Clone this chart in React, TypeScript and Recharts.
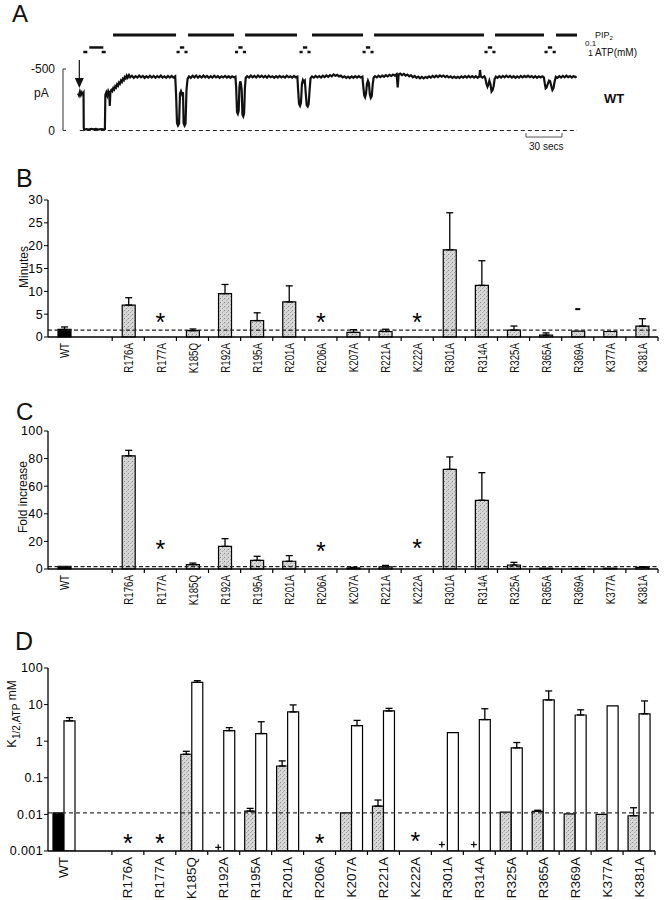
import React from 'react';
import {
  ComposedChart, LineChart, Line, Bar, Cell, XAxis, YAxis, ErrorBar, ReferenceLine, ReferenceDot,
} from 'recharts';

const FONT = '"Liberation Sans", Arial, Helvetica, sans-serif';

// ---------- panel A: current trace, time in s, current in pA ----------
const tracePoints: [number, number][] = [
  [0, -300], [0.8, -285], [1.6, -315], [2.4, -290], [3.2, -310], [4.0, -295], [4.6, -305],
  [4.8, -20], [5.2, -5], [7, -12], [9, -8], [11, -14], [13, -9], [15, -13], [17, -8], [19, -12], [21, -9], [22.4, -11],
  [22.8, -290], [23.6, -310], [24.4, -285], [25.2, -320], [26.0, -300], [26.5, -200], [27.0, -315], [27.8, -330],
  [28.6, -320], [29.4, -345], [30.2, -335], [31, -360], [31.8, -350], [32.6, -375], [33.4, -365], [34.2, -390],
  [35, -380], [35.8, -405], [36.6, -395], [37.4, -420], [38.2, -410], [39, -435], [39.8, -425], [40.6, -445],
  [41.4, -430], [42.5, -450], [43.5, -432], [45, -445], [46.5, -428], [48, -442], [49.5, -430], [51, -446],
  [52.5, -432], [54, -444], [55.5, -428], [57, -441], [58.5, -430], [60, -445], [61.5, -431], [63, -443],
  [64.5, -429], [66, -442], [67.5, -432], [69, -446], [70.5, -430], [72, -440], [73.5, -428], [75, -443],
  [76.5, -431], [78, -444], [79.5, -430], [81, -440],
  [81.7, -300], [82.5, -60], [83.3, -40], [84.2, -55], [85.0, -300], [85.8, -320], [86.7, -295], [87.5, -310],
  [88.0, -60], [88.8, -40], [89.6, -55], [90.4, -330], [91.3, -420], [92.5, -440],
  [94, -428], [95.5, -445], [97, -432], [98.5, -447], [100, -430], [101.5, -444], [103, -431], [104.5, -446],
  [106, -433], [107.5, -443], [109, -429], [110.5, -441], [112, -430], [113.5, -445], [115, -432], [116.5, -442],
  [118, -428], [119.5, -440], [121, -431], [122.5, -444], [124, -430], [125.5, -441], [127, -429], [128.5, -440],
  [130, -432], [131.2, -438],
  [131.8, -350], [132.5, -150], [133.2, -135], [133.9, -160], [134.5, -350], [135.1, -400], [135.7, -385],
  [136.4, -330], [137.0, -130], [137.7, -115], [138.4, -140], [139.1, -350], [139.8, -430], [141, -442],
  [142.5, -430], [144, -446], [145.5, -433], [147, -444], [148.5, -431], [150, -447], [151.5, -434], [153, -445],
  [154.5, -432], [156, -443], [157.5, -430], [159, -445], [160.5, -433], [162, -441], [163.5, -429], [165, -442],
  [166.5, -431], [168, -444], [169.5, -432], [171, -441], [172.5, -430], [174, -445], [175.5, -433], [177, -440],
  [178.5, -430], [180, -443], [181.5, -432], [182.8, -438],
  [183.4, -330], [184.2, -215], [185.0, -200], [185.8, -225], [186.6, -380], [187.4, -410], [188.2, -395],
  [189.0, -405], [189.8, -300], [190.6, -205], [191.4, -195], [192.2, -215], [193.0, -330], [193.8, -425], [195, -440],
  [196.5, -430], [198, -444], [199.5, -432], [201, -442], [202.5, -430], [204, -445], [205.5, -434], [207, -447],
  [208.5, -436], [210, -450], [211.5, -440], [213, -455], [214.5, -445], [216, -452], [217.5, -440], [219, -446],
  [220.5, -432], [222, -440], [223.5, -428], [225, -438], [226.5, -427], [228, -440], [229.5, -429], [231, -441],
  [232.5, -430], [234, -442], [235.5, -431], [237, -438],
  [237.7, -360], [238.5, -285], [239.2, -270], [240.0, -300], [240.8, -380], [241.6, -405], [242.4, -385],
  [243.2, -290], [244.0, -265], [244.8, -280], [245.6, -380], [246.4, -430], [247.5, -442],
  [249, -432], [250.5, -445], [252, -434], [253.5, -447], [255, -437], [256.5, -450], [258, -440], [259.5, -452],
  [261, -443], [262.5, -455], [264, -446], [265.5, -458], [266.4, -350], [267.2, -455], [268.5, -462], [270, -450],
  [271.5, -460], [273, -446], [274.5, -455], [276, -440], [277.5, -450], [279, -433], [280.5, -443], [282, -428],
  [283.5, -438], [285, -425], [286.5, -436], [288, -424], [289.5, -435], [291, -428], [292.5, -440], [294, -430],
  [295.5, -444], [297, -433], [298.5, -446], [300, -435], [301.5, -448], [303, -437], [304.5, -447], [306, -434],
  [307.5, -444], [309, -431], [310.5, -440], [312, -428], [313.5, -438], [315, -427], [316.5, -437], [318, -428],
  [319.5, -440], [321, -430], [322.5, -442], [324, -431], [325.5, -443], [327, -432], [328.5, -442], [330, -430],
  [331.5, -441], [333, -429], [334.5, -440], [335, -492], [335.6, -440], [337, -430], [338.5, -440],
  [339.4, -425], [340.3, -380], [341.2, -356], [342.0, -375], [342.8, -405], [343.6, -380], [344.6, -318],
  [345.5, -330], [346.3, -360], [347.2, -420], [348.2, -438],
  [349.5, -428], [351, -442], [352.5, -431], [354, -444], [355.5, -432], [357, -445], [358.5, -433], [360, -443],
  [361.5, -430], [363, -441], [364.5, -429], [366, -440], [367.5, -430], [369, -443], [370.5, -432], [372, -444],
  [373.5, -434], [375, -445], [376.5, -433], [378, -442], [379.5, -430], [381, -441], [382.5, -429], [384, -440],
  [385.5, -431], [387, -440], [388.2, -432],
  [389.0, -380], [389.7, -343], [390.5, -350], [391.5, -380], [392.5, -405], [393.4, -400], [394.4, -360],
  [395.3, -330], [396.2, -345], [397.2, -400], [398.2, -437],
  [399.5, -428], [401, -442], [402.5, -431], [404, -444], [405.5, -432], [407, -445], [408.5, -434], [410, -443],
  [411.5, -431], [413, -442], [414.5, -433], [415.5, -440],
];

// solution protocol (s)
const pip2On: [number, number][] = [[29.2, 81.7], [91.7, 130], [139.2, 182.5], [195, 237.5], [246.7, 338.3], [347.5, 388.3], [398.3, 415.8]];
const atp01: [number, number][] = [[9.4, 21.1], [84.9, 88.5], [133.6, 137.2], [187.4, 191.0], [239.9, 243.5], [341.5, 345.1], [391.5, 395.1]];
const atp1: [number, number][] = [
  [4.4, 7.8], [19.7, 23.1], [82.1, 84.7], [88.7, 91.3], [130.8, 133.4], [137.4, 140.0], [184.6, 187.2], [191.2, 193.8],
  [237.1, 239.7], [243.7, 246.3], [338.7, 341.3], [345.3, 347.9], [388.7, 391.3], [395.5, 398.1],
];
const arrowAt = 1.1;
const scaleBar: [number, number] = [373.3, 403.3]; // 30 s

// rows of the annotation bars above the trace (drawn in current units, outside the axis range)
const PIP_ROW = -776;
const ATP01_ROW = -675;
const ATP1_ROW = -638;

// ---------- panels B-D ----------
const mutants = ['WT', '', 'R176A', 'R177A', 'K185Q', 'R192A', 'R195A', 'R201A', 'R206A', 'K207A', 'R221A',
  'K222A', 'R301A', 'R314A', 'R325A', 'R365A', 'R369A', 'K377A', 'K381A'];

// B: minutes
const minutes = [1.65, null, 7.0, null, 1.4, 9.5, 3.6, 7.7, null, 1.0, 1.2, null, 19.1, 11.3, 1.5, 0.4, 1.3, 1.2, 2.4];
const minutesErrTop = [2.2, null, 8.6, null, 1.75, 11.5, 5.3, 11.2, null, 1.6, 1.7, null, 27.2, 16.7, 2.4, 0.9, null, null, 4.0];
const minutesStar = [null, null, null, 4.4, null, null, null, null, 4.3, null, null, 4.4, null, null, null, null, null, null, null];
const minutesMark = [null, null, null, null, null, null, null, null, null, null, null, null, null, null, null, null, 6.1, null, null];

// C: fold increase
const fold = [2.0, null, 82, null, 3.2, 16.4, 6.3, 5.6, null, 0.8, 1.5, null, 72.2, 49.8, 2.9, 0.6, 0.4, 0.6, 1.2];
const foldErrTop = [null, null, 86, null, 4.3, 22, 9.2, 9.7, null, 1.2, 2.6, null, 81.2, 69.8, 4.8, null, null, null, 1.7];
const foldStar = [null, null, null, 18, null, null, null, null, 16.5, null, null, 18.5, null, null, null, null, null, null, null];

// D: K1/2,ATP (mM), control (stippled) and after PIP2 (open)
const kControl = [0.011, null, null, null, 0.44, null, 0.0123, 0.21, null, 0.011, 0.0169, null, null, null, 0.0116, 0.0121, 0.0104, 0.010, 0.0092];
const kControlErrTop = [null, null, null, null, 0.53, null, 0.0146, 0.29, null, null, 0.0247, null, null, null, null, 0.013, null, null, 0.0152];
const kPip2 = [3.6, null, null, null, 40.6, 1.95, 1.62, 6.3, null, 2.67, 6.7, null, 1.72, 3.9, 0.66, 13.4, 5.2, 9.2, 5.6];
const kPip2ErrTop = [4.4, null, null, null, 45, 2.35, 3.4, 9.8, null, 3.7, 7.9, null, null, 7.7, 0.92, 23.6, 7.2, null, 12.6];
const kStar = [null, null, 0.0023, 0.0023, null, null, null, null, 0.0023, null, null, 0.0026, null, null, null, null, null, null, null];
const kPlus = [null, null, null, null, null, 0.00126, null, null, null, null, null, null, 0.0015, 0.0015, null, null, null, null, null];

const errOf = (v: number | null, top: number | null) => (v != null && top != null ? [0, top - v] : null);

const traceRows = tracePoints.map(([t, i]) => ({ t, i }));
const minutesRows = mutants.map((name, k) => ({
  name, value: minutes[k], err: errOf(minutes[k], minutesErrTop[k]), star: minutesStar[k], mark: minutesMark[k],
}));
const foldRows = mutants.map((name, k) => ({
  name, value: fold[k], err: errOf(fold[k], foldErrTop[k]), star: foldStar[k],
}));
const kRows = mutants.map((name, k) => ({
  name,
  control: kControl[k], controlErr: errOf(kControl[k], kControlErrTop[k]),
  pip2: kPip2[k], pip2Err: errOf(kPip2[k], kPip2ErrTop[k]),
  star: kStar[k], plus: kPlus[k],
}));

const STIPPLE = 'url(#stipple)';
const axisStyle = { stroke: '#000', strokeWidth: 1.3 };

function categoryTick(props: any, size: number, squeeze: number) {
  const { x, y, payload, index } = props;
  const half = payload && typeof payload.offset === 'number' ? payload.offset : 16;
  const last = index === mutants.length - 1;
  return (
    <g key={`ct${index}`}>
      {index >= 2 && <line x1={x - half} x2={x - half} y1={y} y2={y + 4} stroke="#000" strokeWidth={1.2} />}
      {last && <line x1={x + half} x2={x + half} y1={y} y2={y + 4} stroke="#000" strokeWidth={1.2} />}
      {payload.value ? (
        <text
          transform={`translate(${x},${y + 6}) rotate(-90) scale(${squeeze},1)`}
          textAnchor="end" dominantBaseline="central" fontSize={size} fontFamily={FONT} fill="#111"
        >
          {payload.value}
        </text>
      ) : null}
    </g>
  );
}

const starDot = (p: any) => {
  if (p.cy == null || Number.isNaN(p.cy)) return <g key={`s${p.index}`} />;
  return (
    <text key={`s${p.index}`} x={p.cx} y={p.cy + 14} textAnchor="middle" fontSize={25} fontFamily={FONT} fill="#000">*</text>
  );
};

const markDot = (p: any) => {
  if (p.cy == null || Number.isNaN(p.cy)) return <g key={`m${p.index}`} />;
  return <line key={`m${p.index}`} x1={p.cx - 2.5} x2={p.cx + 2.5} y1={p.cy} y2={p.cy} stroke="#000" strokeWidth={2} />;
};

const plusDot = (p: any) => {
  if (p.cy == null || Number.isNaN(p.cy)) return <g key={`p${p.index}`} />;
  const cx = p.cx - 5.5;
  return (
    <g key={`p${p.index}`}>
      <line x1={cx - 3} x2={cx + 3} y1={p.cy} y2={p.cy} stroke="#000" strokeWidth={1.2} />
      <line x1={cx} x2={cx} y1={p.cy - 3} y2={p.cy + 3} stroke="#000" strokeWidth={1.2} />
    </g>
  );
};

const currentTick = (p: any) => {
  const { x, y, payload } = p;
  return (
    <g key={`ya${payload.value}`}>
      <line x1={x} x2={x + 3} y1={y} y2={y} stroke="#333" strokeWidth={1} />
      <text x={x - 8} y={y + 4} textAnchor="end" fontSize={12} fontFamily={FONT} fill="#111">{payload.value}</text>
    </g>
  );
};

const arrowShape = (p: any) => {
  const { cx, cy } = p;
  return (
    <g>
      <line x1={cx} x2={cx} y1={cy - 28} y2={cy - 9} stroke="#111" strokeWidth={1.2} />
      <path d={`M${cx - 4.5},${cy - 10} L${cx + 4.5},${cy - 10} L${cx},${cy} Z`} fill="#111" />
    </g>
  );
};

const yTickStyle = { fill: '#000', fontSize: 12.5, fontFamily: FONT, letterSpacing: 0.4 };

export default function App() {
  return (
    <div style={{ position: 'absolute', left: 0, top: 0, width: 666, height: 900, background: '#fff', fontFamily: FONT }}>
      <svg width={0} height={0} style={{ position: 'absolute' }}>
        <defs>
          <pattern id="stipple" width={4} height={4} patternUnits="userSpaceOnUse">
            <rect width={4} height={4} fill="#d6d6d6" />
            <rect x={0} y={0} width={1} height={1} fill="#8a8a8a" />
            <rect x={2} y={2} width={1} height={1} fill="#a6a6a6" />
            <rect x={3} y={1} width={1} height={1} fill="#bcbcbc" />
          </pattern>
        </defs>
      </svg>

      {/* A */}
      <div style={{ position: 'absolute', left: 0, top: 0 }}>
        <LineChart width={666} height={160} data={traceRows} margin={{ top: 69, right: 89, bottom: 29.5, left: 23 }}>
          <XAxis dataKey="t" type="number" domain={[-12.5, 415.8]} allowDataOverflow hide />
          <YAxis
            type="number" domain={[-500, 0]} reversed ticks={[-500, 0]} width={40} interval={0}
            tickSize={0} tickMargin={0} tickLine={false} axisLine={{ stroke: '#333', strokeWidth: 1 }} tick={currentTick}
          />
          <ReferenceLine segment={[{ x: 1.5, y: 0 }, { x: 415.8, y: 0 }]} stroke="#222" strokeWidth={1.2} strokeDasharray="4 3" ifOverflow="visible" />
          {pip2On.map(([a, b], k) => (
            <ReferenceLine key={`pip${k}`} segment={[{ x: a, y: PIP_ROW }, { x: b, y: PIP_ROW }]} stroke="#111" strokeWidth={3} ifOverflow="visible" />
          ))}
          {atp01.map(([a, b], k) => (
            <ReferenceLine key={`a01${k}`} segment={[{ x: a, y: ATP01_ROW }, { x: b, y: ATP01_ROW }]} stroke="#111" strokeWidth={2.5} ifOverflow="visible" />
          ))}
          {atp1.map(([a, b], k) => (
            <ReferenceLine key={`a1${k}`} segment={[{ x: a, y: ATP1_ROW }, { x: b, y: ATP1_ROW }]} stroke="#111" strokeWidth={2.5} ifOverflow="visible" />
          ))}
          <ReferenceLine segment={[{ x: scaleBar[0], y: 53 }, { x: scaleBar[1], y: 53 }]} stroke="#555" strokeWidth={1} ifOverflow="visible" />
          <ReferenceLine segment={[{ x: scaleBar[0], y: 20 }, { x: scaleBar[0], y: 53 }]} stroke="#555" strokeWidth={1} ifOverflow="visible" />
          <ReferenceLine segment={[{ x: scaleBar[1], y: 20 }, { x: scaleBar[1], y: 53 }]} stroke="#555" strokeWidth={1} ifOverflow="visible" />
          <ReferenceDot x={arrowAt} y={-345} ifOverflow="visible" shape={arrowShape} />
          <Line dataKey="i" stroke="#111" strokeWidth={2.2} dot={false} type="linear" isAnimationActive={false} />
        </LineChart>
      </div>

      {/* B */}
      <div style={{ position: 'absolute', left: 0, top: 190 }}>
        <ComposedChart width={666} height={200} data={minutesRows} margin={{ top: 10, right: 8, bottom: 0, left: 0 }}>
          <XAxis dataKey="name" interval={0} height={53} tickSize={0} tickMargin={0} tickLine={false} axisLine={axisStyle}
            tick={(p: any) => categoryTick(p, 13.5, 0.72)} />
          <YAxis domain={[0, 30]} ticks={[0, 5, 10, 15, 20, 25, 30]} interval={0} width={48} tickSize={4} tickMargin={1}
            axisLine={axisStyle} tickLine={{ stroke: '#000' }} tick={yTickStyle} />
          <ReferenceLine y={1.5} stroke="#222" strokeWidth={1.2} strokeDasharray="4 2.5" />
          <Bar dataKey="value" barSize={13} stroke="#000" strokeWidth={1.2} isAnimationActive={false}>
            {minutesRows.map((r, k) => <Cell key={k} fill={r.name === 'WT' ? '#000' : STIPPLE} />)}
            <ErrorBar dataKey="err" width={3.5} stroke="#000" strokeWidth={1.3} direction="y" />
          </Bar>
          <Line dataKey="star" stroke="none" dot={starDot} activeDot={false} isAnimationActive={false} />
          <Line dataKey="mark" stroke="none" dot={markDot} activeDot={false} isAnimationActive={false} />
        </ComposedChart>
      </div>

      {/* C */}
      <div style={{ position: 'absolute', left: 0, top: 421 }}>
        <ComposedChart width={666} height={200} data={foldRows} margin={{ top: 10, right: 8, bottom: 0, left: 0 }}>
          <XAxis dataKey="name" interval={0} height={52} tickSize={0} tickMargin={0} tickLine={false} axisLine={axisStyle}
            tick={(p: any) => categoryTick(p, 13.5, 0.72)} />
          <YAxis domain={[0, 100]} ticks={[0, 20, 40, 60, 80, 100]} interval={0} width={48} tickSize={4} tickMargin={1}
            axisLine={axisStyle} tickLine={{ stroke: '#000' }} tick={yTickStyle} />
          <ReferenceLine y={1.7} stroke="#222" strokeWidth={1.2} strokeDasharray="4 2.5" />
          <Bar dataKey="value" barSize={13} stroke="#000" strokeWidth={1.2} isAnimationActive={false}>
            {foldRows.map((r, k) => <Cell key={k} fill={r.name === 'WT' ? '#000' : STIPPLE} />)}
            <ErrorBar dataKey="err" width={3.5} stroke="#000" strokeWidth={1.3} direction="y" />
          </Bar>
          <Line dataKey="star" stroke="none" dot={starDot} activeDot={false} isAnimationActive={false} />
        </ComposedChart>
      </div>

      {/* D */}
      <div style={{ position: 'absolute', left: 0, top: 658 }}>
        <ComposedChart width={666} height={242} data={kRows} margin={{ top: 10, right: 11, bottom: 0, left: 0 }} barGap={0}>
          <XAxis dataKey="name" interval={0} height={49} tickSize={0} tickMargin={0} tickLine={false} axisLine={axisStyle}
            tick={(p: any) => categoryTick(p, 13.5, 1)} />
          <YAxis scale="log" domain={[0.001, 100]} allowDataOverflow ticks={[0.001, 0.01, 0.1, 1, 10, 100]} interval={0}
            width={48} tickSize={4} tickMargin={1} axisLine={axisStyle} tickLine={{ stroke: '#000' }}
            tick={yTickStyle} tickFormatter={(v: number) => String(v)} />
          <ReferenceLine y={0.011} stroke="#333" strokeWidth={1.1} strokeDasharray="4 3" />
          <Bar dataKey="control" barSize={11} stroke="#000" strokeWidth={1.2} isAnimationActive={false}>
            {kRows.map((r, k) => <Cell key={k} fill={r.name === 'WT' ? '#000' : STIPPLE} />)}
            <ErrorBar dataKey="controlErr" width={3.5} stroke="#000" strokeWidth={1.3} direction="y" />
          </Bar>
          <Bar dataKey="pip2" barSize={11} fill="#fff" stroke="#000" strokeWidth={1.2} isAnimationActive={false}>
            <ErrorBar dataKey="pip2Err" width={3.5} stroke="#000" strokeWidth={1.3} direction="y" />
          </Bar>
          <Line dataKey="star" stroke="none" dot={starDot} activeDot={false} isAnimationActive={false} />
          <Line dataKey="plus" stroke="none" dot={plusDot} activeDot={false} isAnimationActive={false} />
        </ComposedChart>
      </div>

      {/* free text */}
      <svg width={666} height={900} style={{ position: 'absolute', left: 0, top: 0, pointerEvents: 'none' }} fontFamily={FONT}>
        <text x={12} y={22} fontSize={24} fill="#111">A</text>
        <text x={16} y={187} fontSize={25} fill="#111">B</text>
        <text x={16} y={420} fontSize={24} fill="#111">C</text>
        <text x={15} y={650} fontSize={25} fill="#111">D</text>

        <text x={595} y={38} fontSize={9} fill="#111">PIP<tspan fontSize={6} dy={2}>2</tspan></text>
        <text x={585} y={46} fontSize={8} fill="#111">0.1</text>
        <text x={588} y={56} fontSize={9} fill="#111">1</text>
        <text x={595} y={56} fontSize={10} fill="#111">ATP(mM)</text>
        <text x={604} y={103} fontSize={13} fontWeight="bold" fill="#111">WT</text>
        <text x={529} y={150} fontSize={10} fill="#111">30 secs</text>
        <text x={34} y={97} fontSize={12} fill="#111">pA</text>

        <text transform="translate(28,267) rotate(-90)" textAnchor="middle" fontSize={12} fill="#111">Minutes</text>
        <text transform="translate(27,497) rotate(-90)" textAnchor="middle" fontSize={12} fill="#111">Fold increase</text>
        <text transform="translate(16,714) rotate(-90)" textAnchor="middle" fontSize={13} fill="#111">
          K<tspan fontSize={10} dy={4}>1/2,ATP</tspan><tspan dy={-4} fontSize={12}>{'  mM'}</tspan>
        </text>
      </svg>
    </div>
  );
}
